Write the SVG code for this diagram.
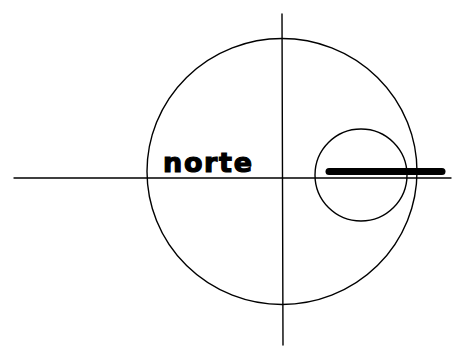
<svg xmlns="http://www.w3.org/2000/svg" width="453" height="349" viewBox="0 0 453 349">
<style>
.ln{fill:none;stroke:#000;stroke-width:1.4;stroke-linecap:round}
.lbl{font-family:"DejaVu Sans",sans-serif;font-weight:bold;font-size:27px;fill:#000;stroke:#000;stroke-width:1.2}
</style>
<rect width="453" height="349" fill="#fff"/>
<g id="connectors">
<line class="ln" x1="14" y1="178" x2="451" y2="178"/>
<line class="ln" x1="282" y1="14" x2="283" y2="345"/>
</g>
<g id="big-circle">
<ellipse class="ln" cx="282" cy="171.5" rx="135" ry="133"/>
</g>
<g id="small-circle">
<circle class="ln" cx="361" cy="175" r="46"/>
</g>
<g id="bar">
<line x1="329" y1="171.5" x2="442" y2="171.5" stroke="#000" stroke-width="7" stroke-linecap="round"/>
</g>
<g id="label-norte">
<text class="lbl" x="163" y="172" textLength="89" lengthAdjust="spacing">norte</text>
</g>
</svg>
